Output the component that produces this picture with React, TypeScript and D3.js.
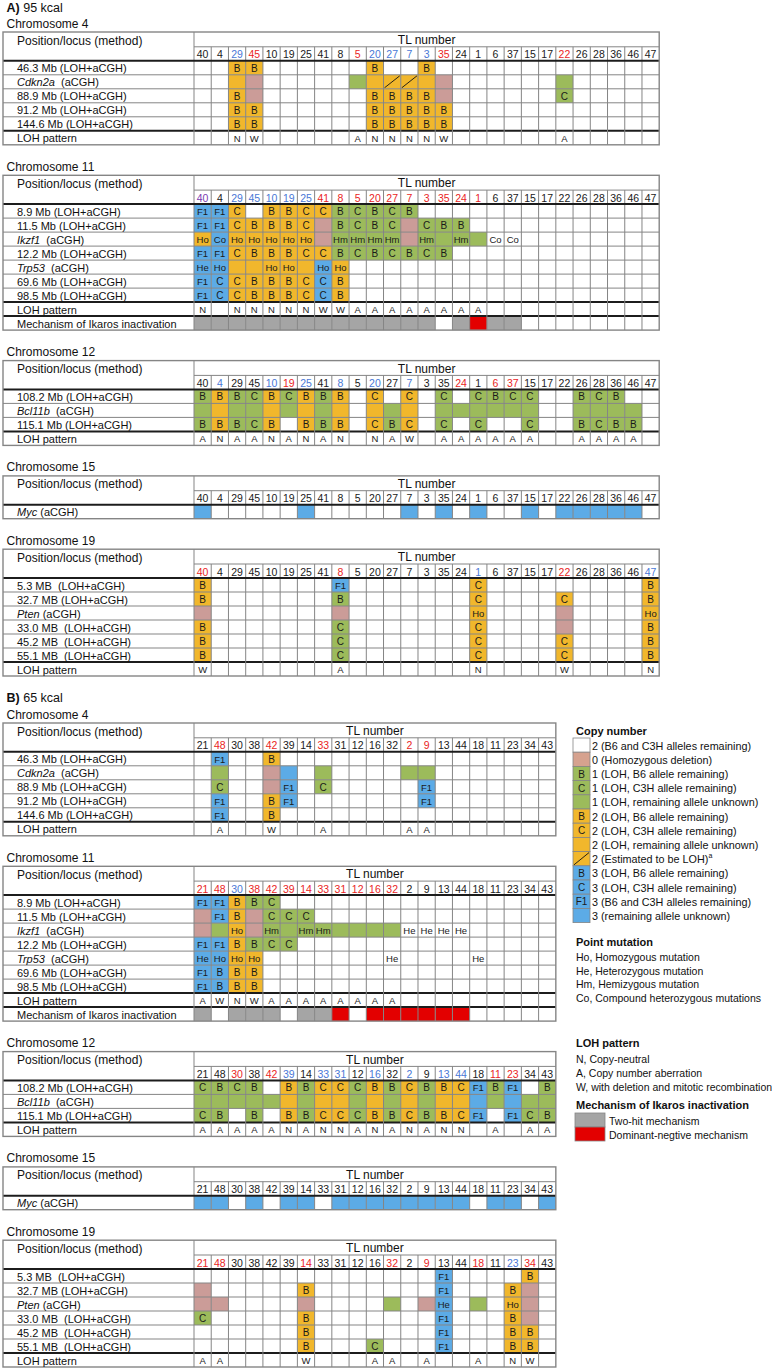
import React from "react";
import * as d3 from "d3";

const FONT = "'Liberation Sans', Arial, Helvetica, sans-serif";

// ---------- column (TL number) orders ----------
const colsA = ["40","4","29","45","10","19","25","41","8","5","20","27","7","3","35","24","1","6","37","15","17","22","26","28","36","46","47"];
const colsB = ["21","48","30","38","42","39","14","33","31","12","16","32","2","9","13","44","18","11","23","34","43"];

// cell code: first char = fill (o orange, g green, b blue, p pink, d orange+diagonal, w white), rest = text
// ---------- A) 95 kcal ----------
const a4Head: Record<string,string> = { "29":"b","45":"r","5":"r","20":"b","27":"b","7":"b","3":"b","35":"r","22":"r" };
const a4Rows = [
  { label: "46.3 Mb (LOH+aCGH)", cells: { "29":"oB","45":"oB","20":"oB","3":"oB" } },
  { label: "Cdkn2a|  (aCGH)", cells: { "29":"o","45":"p","5":"g","20":"o","27":"d","7":"d","3":"o","35":"p","22":"g" } },
  { label: "88.9 Mb (LOH+aCGH)", cells: { "29":"oB","45":"p","20":"oB","27":"oB","7":"oB","3":"oB","35":"p","22":"gC" } },
  { label: "91.2 Mb (LOH+aCGH)", cells: { "29":"oB","45":"oB","20":"oB","27":"oB","7":"oB","3":"oB","35":"oB" } },
  { label: "144.6 Mb (LOH+aCGH)", cells: { "29":"oB","45":"oB","20":"oB","27":"oB","7":"oB","3":"oB","35":"oB" } },
];
const a4Loh: Record<string,string> = { "29":"N","45":"W","5":"A","20":"N","27":"N","7":"N","3":"N","35":"W","22":"A" };

const a11Head: Record<string,string> = { "40":"p","29":"b","45":"b","10":"b","19":"b","25":"b","41":"r","8":"r","5":"r","20":"r","27":"r","7":"r","3":"r","35":"r","24":"r","1":"r" };
const a11Rows = [
  { label: "8.9 Mb (LOH+aCGH)", cells: { "40":"bF1","4":"bF1","29":"oC","10":"oB","19":"oB","25":"oC","41":"oC","8":"gB","5":"gC","20":"gB","27":"gC","7":"gB" } },
  { label: "11.5 Mb (LOH+aCGH)", cells: { "40":"bF1","4":"bF1","29":"oC","45":"oB","10":"oB","19":"oB","25":"oC","41":"p","8":"gB","5":"gC","20":"gB","27":"gC","7":"p","3":"gC","35":"gB","24":"gB" } },
  { label: "Ikzf1|  (aCGH)", cells: { "40":"oHo","4":"bCo","29":"oHo","45":"oHo","10":"oHo","19":"oHo","25":"oHo","41":"p","8":"gHm","5":"gHm","20":"gHm","27":"gHm","7":"p","3":"gHm","35":"g","24":"gHm","1":"g","6":"wCo","37":"wCo" } },
  { label: "12.2 Mb (LOH+aCGH)", cells: { "40":"bF1","4":"bF1","29":"oC","45":"oB","10":"oB","19":"oB","25":"oC","41":"oC","8":"gB","5":"gC","20":"gB","27":"gC","7":"gB","3":"gC","35":"gB" } },
  { label: "Trp53|  (aCGH)", cells: { "40":"bHe","4":"bHo","29":"o","45":"o","10":"oHo","19":"oHo","25":"o","41":"bHo","8":"oHo" } },
  { label: "69.6 Mb (LOH+aCGH)", cells: { "40":"bF1","4":"bC","29":"oC","45":"oB","10":"oB","19":"oB","25":"oC","41":"bC","8":"oB" } },
  { label: "98.5 Mb (LOH+aCGH)", cells: { "40":"bF1","4":"bC","29":"oC","45":"oB","10":"oB","19":"oB","25":"oC","41":"bC","8":"oB" } },
];
const a11Loh: Record<string,string> = { "40":"N","29":"N","45":"N","10":"N","19":"N","25":"N","41":"W","8":"W","5":"A","20":"A","27":"A","7":"A","3":"A","35":"A","24":"A","1":"A" };
const a11Mech: Record<string,string> = { "40":"k","4":"k","29":"k","45":"k","10":"k","19":"k","25":"k","41":"k","8":"k","5":"k","20":"k","27":"k","7":"k","3":"k","24":"k","1":"r","6":"k","37":"k" };

const a12Head: Record<string,string> = { "4":"b","10":"b","19":"r","25":"b","8":"b","20":"b","7":"b","24":"r","6":"r","37":"r" };
const a12Rows = [
  { label: "108.2 Mb (LOH+aCGH)", cells: { "40":"gB","4":"oB","29":"gB","45":"gC","10":"oB","19":"gC","25":"oB","41":"gB","8":"oB","20":"oC","7":"oC","35":"gC","1":"gC","6":"gB","37":"gC","15":"gC","26":"gB","28":"gC","36":"gB" } },
  { label: "Bcl11b|  (aCGH)", cells: { "40":"g","4":"o","29":"g","45":"g","10":"o","19":"g","25":"o","41":"g","8":"o","20":"o","27":"g","7":"o","35":"g","24":"g","1":"g","6":"g","37":"g","15":"g","26":"g","28":"g","36":"g","46":"g" } },
  { label: "115.1 Mb (LOH+aCGH)", cells: { "40":"gB","4":"oB","29":"gB","45":"gC","10":"oB","25":"oB","41":"gB","8":"oB","20":"oC","27":"gB","7":"oC","35":"gC","1":"gC","15":"gC","26":"gB","28":"gC","36":"gB","46":"gB" } },
];
const a12Loh: Record<string,string> = { "40":"A","4":"N","29":"A","45":"A","10":"N","19":"A","25":"N","41":"A","8":"N","20":"N","27":"A","7":"W","35":"A","24":"A","1":"A","6":"A","37":"A","15":"A","26":"A","28":"A","36":"A","46":"A" };

const a15Head: Record<string,string> = {};
const a15Rows = [
  { label: "Myc| (aCGH)", cells: { "40":"b","25":"b","7":"b","35":"b","1":"b","15":"b","22":"b","26":"b","28":"b","36":"b","46":"b" } },
];

const a19Head: Record<string,string> = { "40":"r","8":"r","1":"b","22":"r","47":"b" };
const a19Rows = [
  { label: "5.3 MB  (LOH+aCGH)", cells: { "40":"oB","8":"bF1","1":"oC","47":"oB" } },
  { label: "32.7 MB (LOH+aCGH)", cells: { "40":"oB","8":"gB","1":"oC","22":"oC","47":"oB" } },
  { label: "Pten| (aCGH)", cells: { "40":"p","8":"p","1":"oHo","22":"p","47":"oHo" } },
  { label: "33.0 MB  (LOH+aCGH)", cells: { "40":"oB","8":"gC","1":"oC","22":"p","47":"oB" } },
  { label: "45.2 MB  (LOH+aCGH)", cells: { "40":"oB","8":"gC","1":"oC","22":"oC","47":"oB" } },
  { label: "55.1 MB  (LOH+aCGH)", cells: { "40":"oB","8":"gC","1":"oC","22":"oC","47":"oB" } },
];
const a19Loh: Record<string,string> = { "40":"W","8":"A","1":"N","22":"W","47":"N" };

// ---------- B) 65 kcal ----------
const b4Head: Record<string,string> = { "48":"r","42":"r","33":"r","2":"r","9":"r" };
const b4Rows = [
  { label: "46.3 Mb (LOH+aCGH)", cells: { "48":"bF1","42":"oB" } },
  { label: "Cdkn2a|  (aCGH)", cells: { "48":"g","42":"p","39":"b","33":"g","2":"g","9":"g" } },
  { label: "88.9 Mb (LOH+aCGH)", cells: { "48":"gC","42":"p","39":"bF1","33":"gC","9":"bF1" } },
  { label: "91.2 Mb (LOH+aCGH)", cells: { "48":"bF1","42":"oB","39":"bF1","9":"bF1" } },
  { label: "144.6 Mb (LOH+aCGH)", cells: { "48":"bF1","42":"oB" } },
];
const b4Loh: Record<string,string> = { "48":"A","42":"W","33":"A","2":"A","9":"A" };

const b11Head: Record<string,string> = { "21":"r","48":"r","30":"b","38":"r","42":"r","39":"r","14":"r","33":"r","31":"r","12":"r","16":"r","32":"r" };
const b11Rows = [
  { label: "8.9 Mb (LOH+aCGH)", cells: { "21":"bF1","48":"bF1","30":"oB","38":"gB","42":"gC" } },
  { label: "11.5 Mb (LOH+aCGH)", cells: { "21":"p","48":"bF1","30":"oB","38":"p","42":"gC","39":"gC","14":"gC" } },
  { label: "Ikzf1|  (aCGH)", cells: { "21":"p","48":"g","30":"oHo","38":"p","42":"gHm","39":"g","14":"gHm","33":"gHm","31":"g","12":"g","16":"g","32":"g","2":"wHe","9":"wHe","13":"wHe","44":"wHe" } },
  { label: "12.2 Mb (LOH+aCGH)", cells: { "21":"bF1","48":"bF1","30":"oB","38":"gB","42":"gC","39":"gC" } },
  { label: "Trp53|  (aCGH)", cells: { "21":"bHe","48":"bHo","30":"oHo","38":"oHo","32":"wHe","18":"wHe" } },
  { label: "69.6 Mb (LOH+aCGH)", cells: { "21":"bF1","48":"bB","30":"oB","38":"oB" } },
  { label: "98.5 Mb (LOH+aCGH)", cells: { "21":"bF1","48":"bB","30":"oB","38":"oB" } },
];
const b11Loh: Record<string,string> = { "21":"A","48":"W","30":"N","38":"W","42":"A","39":"A","14":"A","33":"A","31":"A","12":"A","16":"A","32":"A" };
const b11Mech: Record<string,string> = { "21":"k","30":"k","38":"k","42":"k","14":"k","33":"k","31":"r","16":"r","32":"r","2":"r","9":"r","13":"r","44":"r" };

const b12Head: Record<string,string> = { "30":"r","42":"r","39":"b","33":"b","31":"b","16":"b","2":"b","13":"b","44":"b","11":"r","23":"r" };
const b12Rows = [
  { label: "108.2 Mb (LOH+aCGH)", cells: { "21":"gC","48":"gB","30":"gC","38":"gB","39":"oB","14":"gB","33":"oC","31":"oC","12":"gC","16":"oB","32":"gB","2":"oC","9":"gB","13":"oB","44":"oC","18":"bF1","11":"gB","23":"bF1","43":"gB" } },
  { label: "Bcl11b|  (aCGH)", cells: { "21":"g","48":"g","30":"g","38":"g","42":"g","39":"o","14":"g","33":"o","31":"o","12":"g","16":"o","32":"g","2":"o","9":"g","13":"o","44":"o","18":"b","11":"g","23":"b","34":"g","43":"g" } },
  { label: "115.1 Mb (LOH+aCGH)", cells: { "21":"gC","48":"gB","38":"gB","39":"oB","14":"gB","33":"oC","31":"oC","12":"gC","16":"oB","32":"gB","2":"oC","9":"gB","13":"oB","44":"oC","18":"bF1","23":"bF1","34":"gC","43":"gB" } },
];
const b12Loh: Record<string,string> = { "21":"A","48":"A","30":"A","38":"A","42":"A","39":"N","14":"A","33":"N","31":"N","12":"A","16":"N","32":"A","2":"N","9":"A","13":"N","44":"N","11":"A","34":"A","43":"A" };

const b15Head: Record<string,string> = {};
const b15Rows = [
  { label: "Myc| (aCGH)", cells: { "21":"b","48":"b","38":"b","39":"b","14":"b","31":"b","12":"b","16":"b","32":"b","2":"b","9":"b","13":"b","44":"b","11":"b","23":"b","43":"b" } },
];

const b19Head: Record<string,string> = { "21":"r","48":"r","14":"r","32":"r","9":"r","18":"r","23":"b","34":"r" };
const b19Rows = [
  { label: "5.3 MB  (LOH+aCGH)", cells: { "13":"bF1","34":"oB" } },
  { label: "32.7 MB (LOH+aCGH)", cells: { "21":"p","14":"oB","13":"bF1","23":"oB","34":"p" } },
  { label: "Pten| (aCGH)", cells: { "21":"p","48":"p","14":"p","32":"g","9":"p","13":"bHe","18":"g","23":"oHo","34":"p" } },
  { label: "33.0 MB  (LOH+aCGH)", cells: { "21":"gC","14":"oB","13":"bF1","23":"oB","34":"p" } },
  { label: "45.2 MB  (LOH+aCGH)", cells: { "14":"oB","13":"bF1","23":"oB","34":"oB" } },
  { label: "55.1 MB  (LOH+aCGH)", cells: { "14":"oB","16":"gC","13":"bF1","23":"oB","34":"oB" } },
];
const b19Loh: Record<string,string> = { "21":"A","48":"A","14":"W","16":"A","32":"A","9":"A","18":"A","23":"N","34":"W" };

// ---------- legend ----------
const legendCopy: [string, string, string][] = [
  ["w", "", "2 (B6 and C3H alleles remaining)"],
  ["t", "", "0 (Homozygous deletion)"],
  ["g", "B", "1 (LOH, B6 allele remaining)"],
  ["g", "C", "1 (LOH, C3H allele remaining)"],
  ["g", "", "1 (LOH, remaining allele unknown)"],
  ["o", "B", "2 (LOH, B6 allele remaining)"],
  ["o", "C", "2 (LOH, C3H allele remaining)"],
  ["o", "", "2 (LOH, remaining allele unknown)"],
  ["d", "", "2 (Estimated to be LOH)^a"],
  ["b", "B", "3 (LOH, B6 allele remaining)"],
  ["b", "C", "3 (LOH, C3H allele remaining)"],
  ["b", "F1", "3 (B6 and C3H alleles remaining)"],
  ["b", "", "3 (remaining allele unknown)"],
];
const legendPoint = ["Ho, Homozygous mutation", "He, Heterozygous mutation", "Hm, Hemizygous mutation", "Co, Compound heterozygous mutations"];
const legendLoh = ["N, Copy-neutral", "A, Copy number aberration", "W, with deletion and mitotic recombination"];
const legendMech: [string, string][] = [["k", "Two-hit mechanism"], ["r", "Dominant-negtive mechanism"]];

// ---------- styling ----------
const FILL: Record<string, string> = { o: "#F1B72C", d: "#F1B72C", g: "#9CBB5B", b: "#5CABE6", p: "#CB9C98", t: "#D6A28F", k: "#A5A5A5", r: "#E30000", w: "none" };
const HEADC: Record<string, string> = { k: "#1a1a1a", b: "#4A78D6", r: "#EA1E1E", p: "#7B3AB0" };
const GRID = "#858585";
const THICK = "#1c1c1c";

const X0 = 3;
const XD = 194;
const COLW = 17.23;
const H1 = 14.8;
const H2 = 14;
const RH = 14;
const GAP = 30.5;

type Row = { label: string; cells: Record<string, string> };
type Tab = { name: string; head: Record<string, string>; rows: Row[]; loh?: Record<string, string>; mech?: Record<string, string> };

const tabsA: Tab[] = [
  { name: "Chromosome 4", head: a4Head, rows: a4Rows, loh: a4Loh },
  { name: "Chromosome 11", head: a11Head, rows: a11Rows, loh: a11Loh, mech: a11Mech },
  { name: "Chromosome 12", head: a12Head, rows: a12Rows, loh: a12Loh },
  { name: "Chromosome 15", head: a15Head, rows: a15Rows },
  { name: "Chromosome 19", head: a19Head, rows: a19Rows, loh: a19Loh },
];
const tabsB: Tab[] = [
  { name: "Chromosome 4", head: b4Head, rows: b4Rows, loh: b4Loh },
  { name: "Chromosome 11", head: b11Head, rows: b11Rows, loh: b11Loh, mech: b11Mech },
  { name: "Chromosome 12", head: b12Head, rows: b12Rows, loh: b12Loh },
  { name: "Chromosome 15", head: b15Head, rows: b15Rows },
  { name: "Chromosome 19", head: b19Head, rows: b19Rows, loh: b19Loh },
];

function nRowsOf(t: Tab) {
  return t.rows.length + (t.loh ? 1 : 0) + (t.mech ? 1 : 0);
}
function heightOf(t: Tab) {
  return H1 + H2 + nRowsOf(t) * RH;
}

function Label({ x, y, label }: { x: number; y: number; label: string }) {
  const parts = label.split("|");
  return (
    <text x={x} y={y} dominantBaseline="central" fontSize={11} fill="#111" style={{ whiteSpace: "pre" }}>
      {parts.length > 1 ? (
        <>
          <tspan fontStyle="italic">{parts[0]}</tspan>
          <tspan>{parts[1]}</tspan>
        </>
      ) : (
        label
      )}
    </text>
  );
}

function Table({ top, cols, t }: { top: number; cols: string[]; t: Tab }) {
  const n = cols.length;
  const right = XD + n * COLW;
  const x = d3.scaleBand<string>().domain(cols).range([XD, right]).paddingInner(0).paddingOuter(0);
  const nr = nRowsOf(t);
  const dataTop = top + H1 + H2;
  const y = d3.scaleBand<number>().domain(d3.range(nr)).range([dataTop, dataTop + nr * RH]);
  const bottom = dataTop + nr * RH;
  const bw = x.bandwidth();
  const bh = y.bandwidth();
  const lohIdx = t.loh ? t.rows.length : -1;
  const mechIdx = t.mech ? t.rows.length + 1 : -1;

  const fills: React.ReactNode[] = [];
  const texts: React.ReactNode[] = [];
  t.rows.forEach((row, ri) => {
    cols.forEach((c) => {
      const code = row.cells[c];
      if (!code) return;
      const f = code[0];
      const txt = code.slice(1);
      const cx = x(c)!;
      const cy = y(ri)!;
      if (FILL[f] !== "none") fills.push(<rect key={`f${ri}-${c}`} x={cx} y={cy} width={bw} height={bh} fill={FILL[f]} />);
      if (f === "d") fills.push(<line key={`dg${ri}-${c}`} x1={cx + 1} y1={cy + bh - 1} x2={cx + bw - 1} y2={cy + 1} stroke="#111" strokeWidth={0.9} />);
      if (txt) texts.push(<text key={`t${ri}-${c}`} x={cx + bw / 2} y={cy + bh / 2 + 0.5} textAnchor="middle" dominantBaseline="central" fontSize={txt.length > 1 ? 9.5 : 10} fill="#1a1a1a">{txt}</text>);
    });
  });
  if (t.loh) {
    cols.forEach((c) => {
      const v = t.loh![c];
      if (v) texts.push(<text key={`l${c}`} x={x(c)! + bw / 2} y={y(lohIdx)! + bh / 2 + 0.5} textAnchor="middle" dominantBaseline="central" fontSize={9.5} fill="#1a1a1a">{v}</text>);
    });
  }
  if (t.mech) {
    cols.forEach((c) => {
      const v = t.mech![c];
      if (v) fills.push(<rect key={`m${c}`} x={x(c)!} y={y(mechIdx)!} width={bw} height={bh} fill={FILL[v]} />);
    });
  }

  const lines: React.ReactNode[] = [];
  lines.push(<line key="h1" x1={XD} x2={right} y1={top + H1} y2={top + H1} stroke={GRID} strokeWidth={1} />);
  for (let i = 1; i < nr; i++) {
    const yy = y(i)!;
    const thick = i === lohIdx || i === mechIdx;
    lines.push(<line key={`r${i}`} x1={X0} x2={right} y1={yy} y2={yy} stroke={thick ? THICK : GRID} strokeWidth={thick ? 2 : 1} />);
  }
  cols.forEach((c, i) => {
    if (i === 0) return;
    lines.push(<line key={`v${c}`} x1={x(c)!} x2={x(c)!} y1={top + H1} y2={bottom} stroke={GRID} strokeWidth={1} />);
  });
  lines.push(<line key="vl" x1={XD} x2={XD} y1={top} y2={bottom} stroke={GRID} strokeWidth={1} />);
  lines.push(<line key="hd" x1={X0} x2={right} y1={dataTop} y2={dataTop} stroke={THICK} strokeWidth={2} />);
  lines.push(<rect key="ob" x={X0} y={top} width={right - X0} height={bottom - top} fill="none" stroke={GRID} strokeWidth={1.4} />);

  return (
    <g>
      <text x={6.5} y={top - 4.5} fontSize={12} fill="#111">{t.name}</text>
      {fills}
      {lines}
      <text x={17} y={top + 12.5} fontSize={12} fill="#111">Position/locus (method)</text>
      <text x={(XD + right) / 2} y={top + 12} textAnchor="middle" fontSize={12} fill="#111">TL number</text>
      {cols.map((c) => (
        <text key={`hc${c}`} x={x(c)! + bw / 2} y={top + H1 + H2 / 2 + 0.5} textAnchor="middle" dominantBaseline="central" fontSize={10.5} fill={HEADC[t.head[c] || "k"]}>{c}</text>
      ))}
      {t.rows.map((r, ri) => (
        <Label key={`lb${ri}`} x={17} y={y(ri)! + bh / 2 + 0.5} label={r.label} />
      ))}
      {t.loh && <text x={17} y={y(lohIdx)! + bh / 2 + 0.5} dominantBaseline="central" fontSize={11} fill="#111">LOH pattern</text>}
      {t.mech && <text x={17} y={y(mechIdx)! + bh / 2 + 0.5} dominantBaseline="central" fontSize={11} fill="#111">Mechanism of Ikaros inactivation</text>}
      {texts}
    </g>
  );
}

function Legend() {
  const LX = 573;
  const BW = 17;
  const yCopy = d3.scaleBand<number>().domain(d3.range(legendCopy.length)).range([738, 738 + legendCopy.length * 14.2]);
  const yPoint = d3.scaleLinear().domain([0, 1]).range([957, 970.7]);
  const yLoh = d3.scaleLinear().domain([0, 1]).range([1059, 1073]);
  const yMech = d3.scaleBand<number>().domain(d3.range(legendMech.length)).range([1113, 1113 + legendMech.length * 14]);
  const bh = yCopy.bandwidth();
  return (
    <g>
      <text x={576} y={731} dominantBaseline="central" fontSize={11} fontWeight="bold" fill="#111">Copy number</text>
      {legendCopy.map(([f, t, lab], i) => {
        const yy = yCopy(i)!;
        const sup = lab.endsWith("^a");
        const txt = sup ? lab.slice(0, -2) : lab;
        return (
          <g key={`lc${i}`}>
            <rect x={LX} y={yy} width={BW} height={bh} fill={f === "w" ? "#fff" : FILL[f]} stroke={GRID} strokeWidth={0.8} />
            {f === "d" && <line x1={LX + 1} y1={yy + bh - 1} x2={LX + BW - 1} y2={yy + 1} stroke="#111" strokeWidth={0.9} />}
            {t && <text x={LX + BW / 2} y={yy + bh / 2 + 0.5} textAnchor="middle" dominantBaseline="central" fontSize={10} fill="#1a1a1a">{t}</text>}
            <text x={LX + BW + 2} y={yy + bh / 2 + 0.5} dominantBaseline="central" fontSize={10.8} fill="#111">
              {txt}
              {sup && <tspan fontSize={7} dy={-4}>a</tspan>}
            </text>
          </g>
        );
      })}
      <text x={576} y={942} dominantBaseline="central" fontSize={11} fontWeight="bold" fill="#111">Point mutation</text>
      {legendPoint.map((s, i) => (
        <text key={`lp${i}`} x={576} y={yPoint(i)} dominantBaseline="central" fontSize={10.5} fill="#111">{s}</text>
      ))}
      <text x={576} y={1043} dominantBaseline="central" fontSize={11} fontWeight="bold" fill="#111">LOH pattern</text>
      {legendLoh.map((s, i) => (
        <text key={`ll${i}`} x={576} y={yLoh(i)} dominantBaseline="central" fontSize={10.5} fill="#111">{s}</text>
      ))}
      <text x={576} y={1105} dominantBaseline="central" fontSize={11} fontWeight="bold" fill="#111">Mechanism of Ikaros inactivation</text>
      {legendMech.map(([f, s], i) => (
        <g key={`lm${i}`}>
          <rect x={LX + 2} y={yMech(i)!} width={30} height={yMech.bandwidth()} fill={FILL[f]} stroke={GRID} strokeWidth={0.8} />
          <text x={LX + 36} y={yMech(i)! + yMech.bandwidth() / 2 + 0.5} dominantBaseline="central" fontSize={10.5} fill="#111">{s}</text>
        </g>
      ))}
    </g>
  );
}

export default function App() {
  const topsA: number[] = [];
  let cur = 32;
  tabsA.forEach((t, i) => {
    if (i > 0) cur += GAP;
    topsA.push(cur);
    cur += heightOf(t);
  });
  const titleB = cur + 26;
  cur += 47;
  const topsB: number[] = [];
  tabsB.forEach((t, i) => {
    if (i > 0) cur += GAP;
    topsB.push(cur);
    cur += heightOf(t);
  });
  return (
    <svg width={772} height={1370} style={{ position: "absolute", left: 0, top: 0, background: "#fff" }} fontFamily={FONT}>
      <rect x={0} y={0} width={772} height={1370} fill="#fff" />
      <text x={6.5} y={12} fontSize={12.5} fill="#111">
        <tspan fontWeight="bold">A)</tspan> 95 kcal
      </text>
      {tabsA.map((t, i) => (
        <Table key={`A${i}`} top={topsA[i]} cols={colsA} t={t} />
      ))}
      <text x={6.5} y={titleB} fontSize={12.5} fill="#111">
        <tspan fontWeight="bold">B)</tspan> 65 kcal
      </text>
      {tabsB.map((t, i) => (
        <Table key={`B${i}`} top={topsB[i]} cols={colsB} t={t} />
      ))}
      <Legend />
    </svg>
  );
}
